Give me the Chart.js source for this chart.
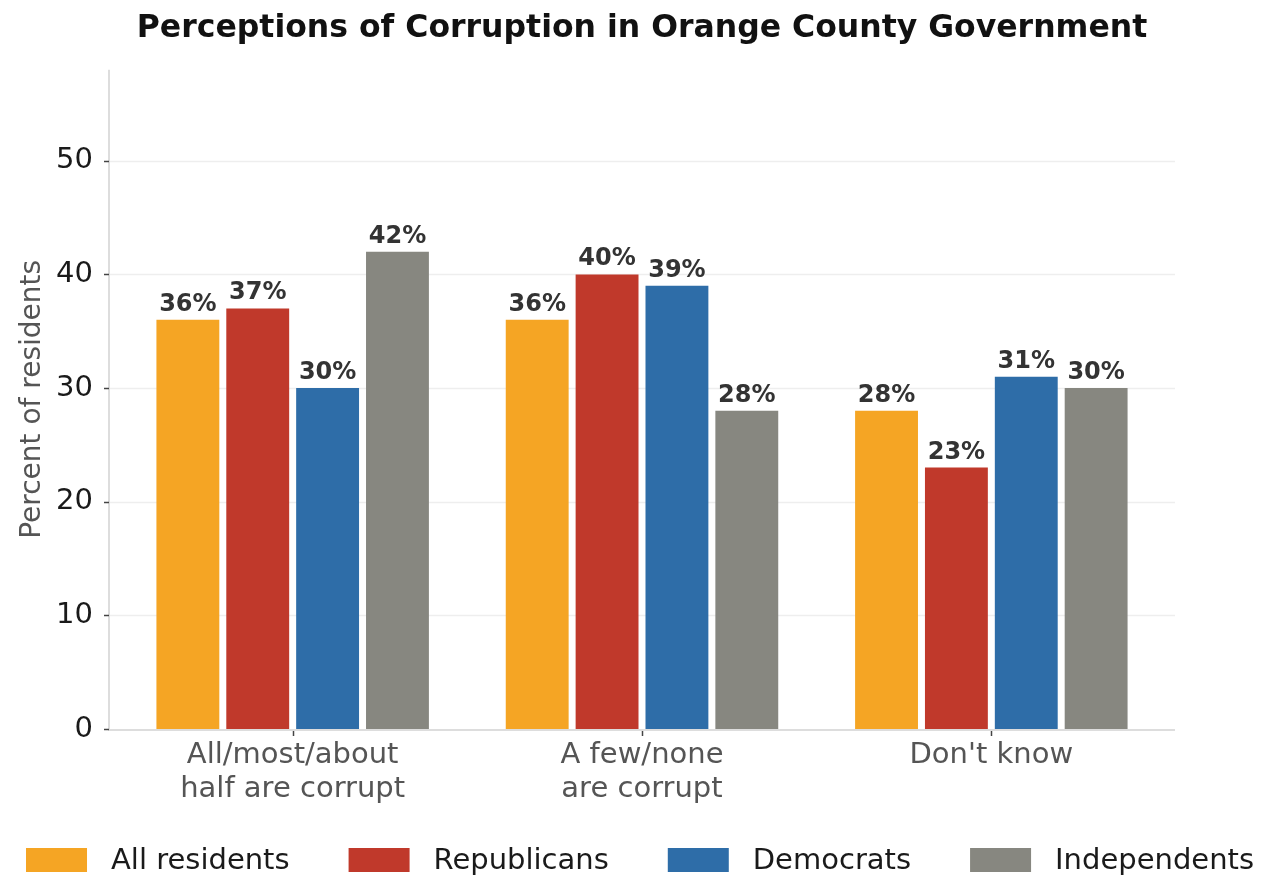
<!DOCTYPE html>
<html>
<head>
<meta charset="utf-8">
<title>Perceptions of Corruption in Orange County Government</title>
<script src="https://cdn.jsdelivr.net/npm/chart.js@4.4.1/dist/chart.umd.min.js"></script>
<style>
    html, body { margin: 0; padding: 0; background: #ffffff; }
    #wrap { width: 1270px; height: 875px; }
</style>
</head>
<body>
<div id="wrap"><canvas id="chart" width="1270" height="875"></canvas></div>
<script>
    // Values.
    const categories = [
        ["All/most/about", "half are corrupt"],
        ["A few/none", "are corrupt"],
        ["Don't know"]
    ];
    const seriesNames = ["All residents", "Republicans", "Democrats", "Independents"];
    const allResidents = [36, 36, 28];
    const republicans = [37, 40, 23];
    const democrats = [30, 39, 31];
    const independents = [42, 28, 30];
    const yTicks = [0, 10, 20, 30, 40, 50];
    const yMax = 58;

    const colors = ["#F5A524", "#C0392B", "#2E6DA8", "#878780"];
    const FONT = "'DejaVu Sans', sans-serif";

    /**
     * Axis lines, grid and tick marks drawn a little wider than the plot area,
     * like the reference does.
     */
    const axesPlugin = {
        id: "axesLines",
        beforeDatasetsDraw(chart) {
            const ctx = chart.ctx;
            const area = chart.chartArea;
            const y = chart.scales.y;
            const x = chart.scales.x;
            const left = area.left - 9;
            const right = area.right + 9;
            ctx.save();
            ctx.lineWidth = 1.5;
            ctx.strokeStyle = "#eeeeee";
            yTicks.forEach(function (v) {
                if (v === 0) {
                    return;
                }
                const py = Math.round(y.getPixelForValue(v)) + 0.5;
                ctx.beginPath();
                ctx.moveTo(left, py);
                ctx.lineTo(right, py);
                ctx.stroke();
            });
            ctx.strokeStyle = "#dddddd";
            ctx.lineWidth = 2;
            ctx.beginPath();
            ctx.moveTo(left, area.top);
            ctx.lineTo(left, area.bottom + 1);
            ctx.lineTo(right, area.bottom + 1);
            ctx.stroke();
            ctx.strokeStyle = "#444444";
            ctx.lineWidth = 1.5;
            yTicks.forEach(function (v) {
                const py = Math.round(y.getPixelForValue(v)) + 0.5;
                ctx.beginPath();
                ctx.moveTo(left - 5, py);
                ctx.lineTo(left, py);
                ctx.stroke();
            });
            categories.forEach(function (c, i) {
                const px = Math.round(x.getPixelForValue(i)) + 0.5;
                ctx.beginPath();
                ctx.moveTo(px, area.bottom + 2);
                ctx.lineTo(px, area.bottom + 7);
                ctx.stroke();
            });
            ctx.restore();
        }
    };

    /**
     * Percent labels above each bar.
     */
    const valueLabels = {
        id: "valueLabels",
        afterDatasetsDraw(chart) {
            const ctx = chart.ctx;
            ctx.save();
            ctx.font = "bold 24px " + FONT;
            ctx.fillStyle = "#333333";
            ctx.textAlign = "center";
            ctx.textBaseline = "alphabetic";
            chart.data.datasets.forEach(function (ds, i) {
                chart.getDatasetMeta(i).data.forEach(function (bar, j) {
                    ctx.fillText(ds.data[j] + "%", bar.x, bar.y - 9);
                });
            });
            ctx.restore();
        }
    };

    /**
     * Legend row along the bottom, spaced like the reference.
     */
    const bottomLegend = {
        id: "bottomLegend",
        afterDraw(chart) {
            const ctx = chart.ctx;
            const boxW = 61, boxH = 24, textGap = 24, itemGap = 59;
            const cy = 860;
            ctx.save();
            ctx.font = "29px " + FONT;
            const items = chart.data.datasets.map(function (ds) {
                return {label: ds.label, color: ds.backgroundColor, w: ctx.measureText(ds.label).width};
            });
            let total = 0;
            items.forEach(function (it, i) {
                total += boxW + textGap + it.w + (i ? itemGap : 0);
            });
            let cx = 640 - total / 2;
            ctx.textBaseline = "middle";
            ctx.textAlign = "left";
            items.forEach(function (it) {
                ctx.fillStyle = it.color;
                ctx.fillRect(cx, cy - boxH / 2, boxW, boxH);
                ctx.fillStyle = "#1a1a1a";
                ctx.fillText(it.label, cx + boxW + textGap, cy + 1);
                cx += boxW + textGap + it.w + itemGap;
            });
            ctx.restore();
        }
    };

    const seriesValues = [allResidents, republicans, democrats, independents];

    new Chart(document.getElementById("chart"), {
        type: "bar",
        data: {
            labels: categories,
            datasets: seriesNames.map(function (name, i) {
                return {
                    label: name,
                    data: seriesValues[i],
                    backgroundColor: colors[i],
                    borderWidth: 0,
                    barPercentage: 0.9,
                    categoryPercentage: 0.8
                };
            })
        },
        options: {
            responsive: false,
            animation: false,
            devicePixelRatio: 1,
            layout: {
                padding: {left: 0, right: 104, top: 0, bottom: 60}
            },
            plugins: {
                legend: {display: false},
                tooltip: {enabled: false},
                title: {
                    display: true,
                    fullSize: false,
                    text: "Perceptions of Corruption in Orange County Government",
                    color: "#111111",
                    font: {family: FONT, size: 31.5, weight: "bold", lineHeight: 1.2},
                    padding: {top: 10, bottom: 22}
                }
            },
            scales: {
                x: {
                    grid: {display: false, drawTicks: false},
                    border: {display: false},
                    ticks: {
                        color: "#555555",
                        padding: 10,
                        font: {family: FONT, size: 29, lineHeight: 1.15}
                    },
                    afterFit: function (scale) {
                        scale.height = 86;
                    }
                },
                y: {
                    min: 0,
                    max: yMax,
                    grid: {display: false, drawTicks: false},
                    border: {display: false},
                    afterBuildTicks: function (scale) {
                        scale.ticks = yTicks.map(function (v) {
                            return {value: v};
                        });
                    },
                    ticks: {
                        color: "#1a1a1a",
                        padding: 25,
                        font: {family: FONT, size: 29}
                    },
                    title: {
                        display: true,
                        text: "Percent of residents",
                        color: "#555555",
                        font: {family: FONT, size: 28, lineHeight: 1.2},
                        padding: {top: 16, bottom: 0}
                    },
                    afterFit: function (scale) {
                        scale.width = 118;
                    }
                }
            }
        },
        plugins: [axesPlugin, valueLabels, bottomLegend]
    });
</script>
</body>
</html>
